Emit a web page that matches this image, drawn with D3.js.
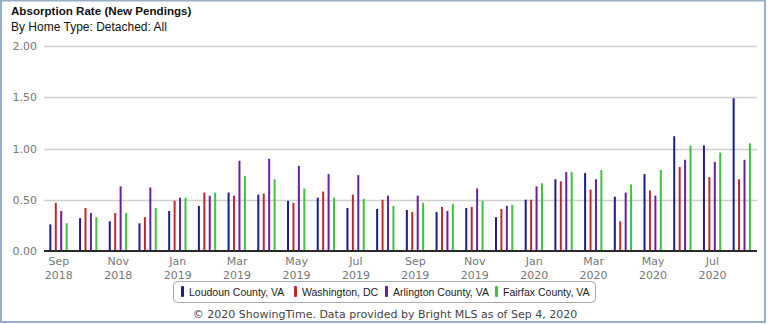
<!DOCTYPE html>
<html>
<head>
<meta charset="utf-8">
<script src="https://cdn.jsdelivr.net/npm/d3@7"></script>
<style>
  html, body { margin: 0; padding: 0; background: #fff; }
  svg { display: block; }
</style>
</head>
<body>
<svg id="chart" width="768" height="324"></svg>
<script>
// Monthly absorption rate, Sep 2018 – Aug 2020
const months = ["2018-09","2018-10","2018-11","2018-12","2019-01","2019-02","2019-03","2019-04",
  "2019-05","2019-06","2019-07","2019-08","2019-09","2019-10","2019-11","2019-12",
  "2020-01","2020-02","2020-03","2020-04","2020-05","2020-06","2020-07","2020-08"];

const seriesNames = ["Loudoun County, VA", "Washington, DC", "Arlington County, VA", "Fairfax County, VA"];
const seriesColors = ["#1c1c8e", "#c0282d", "#6a1f9e", "#3cc43c"];

const loudoun    = [0.26,0.32,0.29,0.27,0.39,0.44,0.57,0.55,0.49,0.52,0.42,0.41,0.40,0.38,0.42,0.33,0.50,0.70,0.76,0.53,0.75,1.12,1.03,1.49];
const washington = [0.47,0.42,0.37,0.33,0.49,0.57,0.54,0.56,0.47,0.58,0.55,0.50,0.38,0.43,0.43,0.41,0.50,0.68,0.60,0.29,0.59,0.82,0.72,0.70];
const arlington  = [0.39,0.37,0.63,0.62,0.52,0.54,0.88,0.90,0.83,0.75,0.74,0.54,0.54,0.39,0.61,0.44,0.63,0.77,0.70,0.57,0.54,0.89,0.87,0.89];
const fairfax    = [0.27,0.33,0.37,0.42,0.52,0.57,0.73,0.70,0.61,0.52,0.51,0.44,0.47,0.46,0.49,0.45,0.66,0.77,0.79,0.65,0.79,1.03,0.96,1.05];
const seriesValues = [loudoun, washington, arlington, fairfax];

const yTicks = [0, 0.5, 1, 1.5, 2];
const monthNames = ["Jan","Feb","Mar","Apr","May","Jun","Jul","Aug","Sep","Oct","Nov","Dec"];

const svg = d3.select("#chart");
const W = 768, H = 324;
const plot = { left: 44, right: 757, top: 46, bottom: 251 };

// outer frame
svg.append("rect").attr("x", 1).attr("y", 0.5).attr("width", W - 4).attr("height", H - 2.5)
  .attr("fill", "#fff").attr("stroke", "#97aecb").attr("stroke-width", 2);

// headings
svg.append("text").attr("x", 11).attr("y", 15)
  .attr("font-family", "'Liberation Sans', Arial, sans-serif").attr("font-weight", "bold")
  .attr("font-size", 11.6).attr("fill", "#111").text("Absorption Rate (New Pendings)");
svg.append("text").attr("x", 11).attr("y", 31)
  .attr("font-family", "'Liberation Sans', Arial, sans-serif")
  .attr("font-size", 12).attr("fill", "#111").text("By Home Type: Detached: All");

const x = d3.scaleBand().domain(months).range([plot.left, plot.right]).padding(0);
const y = d3.scaleLinear().domain([0, 2]).range([plot.bottom, plot.top]);
const xInner = d3.scaleBand().domain(d3.range(seriesNames.length)).range([-9.5, 9.5]).paddingInner(0.5);

// horizontal gridlines
svg.append("g").selectAll("line").data(yTicks.filter(d => d > 0)).join("line")
  .attr("x1", plot.left).attr("x2", plot.right)
  .attr("y1", d => Math.round(y(d)) + 0.5).attr("y2", d => Math.round(y(d)) + 0.5)
  .attr("stroke", "#cfcfcf").attr("stroke-width", 1.5);

// y axis labels
const yAxis = d3.axisLeft(y).tickValues(yTicks).tickFormat(d3.format(".2f")).tickSize(0).tickPadding(7);
const gy = svg.append("g").attr("transform", `translate(${plot.left},0)`).call(yAxis);
gy.select(".domain").remove();
gy.selectAll("text").attr("font-family", "DejaVu Sans, sans-serif").attr("font-size", 11).attr("fill", "#777");

// bars
const groups = svg.append("g").selectAll("g").data(months).join("g")
  .attr("transform", d => `translate(${x(d) + x.bandwidth() / 2},0)`);
groups.selectAll("rect")
  .data((m, i) => seriesValues.map((vals, s) => ({ s, v: vals[i] })))
  .join("rect")
  .attr("x", d => xInner(d.s))
  .attr("width", 2)
  .attr("y", d => y(d.v))
  .attr("height", d => y(0) - y(d.v))
  .attr("fill", d => seriesColors[d.s]);

// baseline
svg.append("line").attr("x1", plot.left).attr("x2", plot.right)
  .attr("y1", plot.bottom).attr("y2", plot.bottom)
  .attr("stroke", "#2a2a2a").attr("stroke-width", 2);

// x axis labels: every other month, month over year
const xAxis = d3.axisBottom(x).tickValues(months.filter((d, i) => i % 2 === 0)).tickSize(0).tickFormat("");
const gx = svg.append("g").attr("transform", `translate(0,${plot.bottom})`).call(xAxis);
gx.select(".domain").remove();
gx.selectAll(".tick").each(function(d) {
  const [yr, mo] = d.split("-");
  const t = d3.select(this).append("text")
    .attr("font-family", "DejaVu Sans, sans-serif").attr("font-size", 11)
    .attr("fill", "#777").attr("text-anchor", "middle");
  t.append("tspan").attr("x", 0).attr("y", 14).text(monthNames[+mo - 1]);
  t.append("tspan").attr("x", 0).attr("y", 28).text(yr);
});

// legend
const legend = svg.append("g");
legend.append("rect").attr("x", 173.5).attr("y", 281.5).attr("width", 422).attr("height", 21)
  .attr("rx", 4).attr("fill", "#fff").attr("stroke", "#aaa");
const legendX = [181, 294, 385, 495];
const items = legend.selectAll("g").data(seriesNames).join("g")
  .attr("transform", (d, i) => `translate(${legendX[i]},286)`);
items.append("rect").attr("width", 3).attr("height", 11).attr("rx", 1)
  .attr("fill", (d, i) => seriesColors[i]);
items.append("text").attr("x", 8).attr("y", 10)
  .attr("font-family", "'Liberation Sans', Arial, sans-serif").attr("font-size", 10.5)
  .attr("fill", "#222").text(d => d);

// footer
svg.append("text").attr("x", 385).attr("y", 318).attr("text-anchor", "middle")
  .attr("font-family", "DejaVu Sans, sans-serif").attr("font-size", 11).attr("fill", "#444")
  .text("© 2020 ShowingTime. Data provided by Bright MLS as of Sep 4, 2020");
</script>
</body>
</html>
